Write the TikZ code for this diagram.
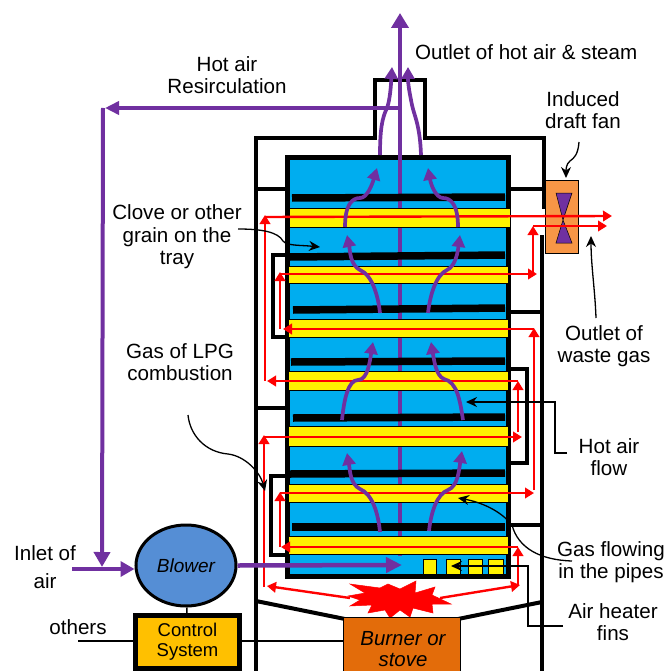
\documentclass[tikz,border=0pt]{standalone}
\usepackage{fontspec}
\setmainfont{Liberation Sans}
\usepackage{tikz}
\usetikzlibrary{arrows.meta, shapes.geometric}
\definecolor{trayblue}{HTML}{00ADEF}
\definecolor{airpurple}{HTML}{7030A0}
\definecolor{fanorange}{HTML}{F79646}
\definecolor{blowerblue}{HTML}{558ED5}
\definecolor{controlgold}{HTML}{FFC000}
\definecolor{burnerorange}{HTML}{E36C0A}
\tikzset{
  label/.style={font=\fontsize{20.6}{22.5}\selectfont, align=center, inner sep=0pt},
  wall/.style={draw=black, line width=4pt, line join=miter},
  thinwall/.style={draw=black, line width=3.5pt},
  tray/.style={draw=black, line width=7.5pt},
  band/.style={fill=yellow, draw=black, line width=0.8pt},
  fin/.style={fill=yellow, draw=black, line width=0.6pt},
  gasflow/.style={draw=red, line width=2.4pt, -{Triangle[length=9pt, width=10.5pt]}},
  hotair/.style={draw=airpurple, line width=3.7pt, -{Triangle[length=12pt, width=13pt]}},
  mainair/.style={draw=airpurple, line width=4.5pt, -{Triangle[length=15pt, width=17pt]}},
  callout/.style={draw=black, line width=1.3pt, -{Stealth[length=11pt, width=10pt]}},
  plainline/.style={draw=black, line width=1.5pt},
}

\begin{document}
\begin{tikzpicture}[x=1pt, y=-1pt]
    \useasboundingbox (0,0) rectangle (669,671);

    % walls of the dryer
    \draw[wall] (256,671)--(256,138)--(375,138)--(375,80)--(425,80)--(425,138)--(544,138)--(544,209);
    \draw[wall] (542,235)--(542,671);
    \draw[thinwall] (256,189)--(287,189);
    \draw[thinwall] (509,189)--(544,189);
    \draw[thinwall] (509,312)--(542,312);
    \draw[thinwall] (256,408)--(287,408);
    \draw[thinwall] (509,525)--(542,525);
    \draw[wall] (256,601)--(345,619);
    \draw[wall] (458,619)--(542,602);

    % baffles
    \draw[thinwall] (287,255)--(273,255)--(273,337)--(287,337);
    \draw[thinwall] (509,369)--(527,369)--(527,463)--(509,463);
    \draw[thinwall] (287,476)--(271,476)--(271,555)--(287,555);

    % drying chamber
    \draw[fill=trayblue, draw=black, line width=5pt] (287.5,158) rectangle (508,576.5);
    \draw[draw=airpurple, line width=4pt] (400,556)--(400,190);

    % trays
    \draw[tray] (292,198)--(505,197);
    \draw[tray] (290,257)--(505,255);
    \draw[tray] (293,310)--(505,308);
    \draw[tray] (291,362)--(505,361);
    \draw[tray] (293,418)--(505,417);
    \draw[tray] (290,474)--(505,473);
    \draw[tray] (292,527)--(505,527);

    % pipes
    \draw[band] (289,208) rectangle (510,227);
    \draw[band] (288,266) rectangle (508,283);
    \draw[band] (288,319) rectangle (508,337);
    \draw[band] (288,371) rectangle (508,390);
    \draw[band] (288,426) rectangle (508,446);
    \draw[band] (288,484) rectangle (508,502);
    \draw[band] (288,536) rectangle (508,554);

    % fins
    \draw[fin] (423,559) rectangle (436,574);
    \draw[fin] (446,559) rectangle (460,574);
    \draw[fin] (468,559) rectangle (482,574);
    \draw[fin] (488,559) rectangle (503,574);
    \draw[black, line width=1pt] (468,566)--(482,566);
    \draw[black, line width=1pt] (488,566)--(503,566);

    % flame and burner
    \draw[fill=red, draw=red, line width=0.5pt] (350,584)--(380,588)--(388,584)--(400,589)--(416,581)--(415,593)--(435,587)--(432,595)--(451,604)--(432,604)--(433,613)--(413,608)--(410,617)--(400,610)--(390,618)--(385,610)--(368,613)--(372,605)--(350,606)--(360,600)--(348,596)--(365,593)--cycle;
    \node[draw=black, fill=burnerorange, line width=1pt, minimum width=117pt, minimum height=64pt, inner sep=0pt] (burner) at (401.5,649) {};
    \node[label, font=\fontsize{20.4}{21}\selectfont\itshape] (burnertext) at (403,649) {Burner or\\stove};

    % fan
    \node[draw=black, fill=fanorange, line width=1pt, minimum width=33pt, minimum height=73pt, inner sep=0pt] (fan) at (561.5,216.5) {};
    \draw[fill=airpurple, draw=black, line width=0.5pt] (556,193)--(572,193)--(563,220)--(572,243)--(556,243)--(563,220)--cycle;

    % blower and control
    \node[ellipse, draw=black, fill=blowerblue, line width=3pt, minimum width=100pt, minimum height=81pt, inner sep=0pt, font=\fontsize{19}{20}\selectfont\itshape] (blower) at (186,565.5) {Blower};
    \node[draw=black, fill=controlgold, line width=5pt, minimum width=104pt, minimum height=53pt, inner sep=0pt, align=center, font=\fontsize{18.5}{20}\selectfont] (control) at (187.5,642) {Control\\System};
    \coordinate (otherend) at (78,641);
    \draw[plainline] (blower)--(control);
    \draw[plainline] (otherend)--(control.west |- otherend);
    \draw[plainline] (control.east |- otherend)--(burner.west |- otherend);

    % gas circuit
    \coordinate (flameleft) at (350,598);
    \coordinate (flameright) at (440,598);
    \coordinate (la) at (267,586);
    \coordinate (lb) at (264,587);
    \coordinate (lc) at (264,435);
    \coordinate (ld) at (264,437);
    \coordinate (le) at (522,437);
    \coordinate (lf) at (518,432);
    \coordinate (lg) at (518,381);
    \coordinate (lh) at (267,381);
    \coordinate (li) at (265,381);
    \coordinate (lj) at (265,215);
    \coordinate (lk) at (265,217);
    \coordinate (ll) at (612,216);
    \coordinate (ra) at (520,585);
    \coordinate (rb) at (518,585);
    \coordinate (rc) at (518,547);
    \coordinate (rd) at (281,547);
    \coordinate (re) at (280,547);
    \coordinate (rf) at (280,492);
    \coordinate (rg) at (280,493);
    \coordinate (rh) at (534,493);
    \coordinate (ri) at (534,490);
    \coordinate (rj) at (534,328);
    \coordinate (rk) at (534,329);
    \coordinate (rl) at (283,329);
    \coordinate (rm) at (280,329);
    \coordinate (rn) at (280,272);
    \coordinate (ro) at (280,274);
    \coordinate (rp) at (537,274);
    \coordinate (rq) at (533,274);
    \coordinate (rr) at (533,226);
    \coordinate (rs) at (533,226);
    \coordinate (rt) at (607,226);
    \draw[gasflow] (flameleft)--(la);
    \draw[gasflow] (lb)--(lc);
    \draw[gasflow] (ld)--(le);
    \draw[gasflow] (lf)--(lg);
    \draw[gasflow] (lg)--(lh);
    \draw[gasflow] (li)--(lj);
    \draw[gasflow] (lk)--(ll);
    \draw[gasflow] (flameright)--(ra);
    \draw[gasflow] (rb)--(rc);
    \draw[gasflow] (rc)--(rd);
    \draw[gasflow] (re)--(rf);
    \draw[gasflow] (rg)--(rh);
    \draw[gasflow] (ri)--(rj);
    \draw[gasflow] (rk)--(rl);
    \draw[gasflow] (rm)--(rn);
    \draw[gasflow] (ro)--(rp);
    \draw[gasflow] (rq)--(rr);
    \draw[gasflow] (rs)--(rt);

    % air inside the chamber
    \coordinate (topcentre) at (400,13);
    \coordinate (bend) at (400,108);
    \coordinate (corner) at (103,108);
    \coordinate (cornerend) at (105,108);
    \coordinate (airdown) at (102,567);
    \coordinate (inlet) at (72,569);
    \coordinate (heaterend) at (402,565);
    \draw[mainair] (400,190)--(topcentre);
    \draw[mainair, -{Triangle[length=14pt, width=13pt]}] (bend)--(cornerend);
    \draw[mainair, line width=4pt, -{Triangle[length=15pt, width=16pt]}] (corner)--(airdown);
    \draw[mainair, -{Triangle[length=14pt, width=15pt]}] (inlet)--(blower.west |- inlet);
    \draw[mainair, -{Triangle[length=16pt, width=15pt]}] (blower.east)--(heaterend);

    \draw[hotair] (345,227) .. controls (345,205) and (352,198) .. (360,198) .. controls (367,198) and (372,185) .. (377,168);
    \draw[hotair] (458,227) .. controls (458,205) and (451,198) .. (443,198) .. controls (436,198) and (431,185) .. (428,168);
    \draw[hotair] (380,313) .. controls (378,295) and (372,275) .. (360,270) .. controls (350,265) and (350,250) .. (347,235);
    \draw[hotair] (428,313) .. controls (430,295) and (436,275) .. (447,270) .. controls (456,266) and (458,250) .. (460,235);
    \draw[hotair] (342,420) .. controls (344,400) and (348,380) .. (358,380) .. controls (368,380) and (370,360) .. (373,342);
    \draw[hotair] (463,420) .. controls (460,400) and (457,382) .. (444,379) .. controls (436,376) and (434,360) .. (431,342);
    \draw[hotair] (380,532) .. controls (378,512) and (372,494) .. (360,489) .. controls (350,484) and (350,470) .. (347,453);
    \draw[hotair] (429,531) .. controls (431,512) and (437,494) .. (448,490) .. controls (458,486) and (459,470) .. (462,451);
    \draw[hotair] (380,155) .. controls (380,130) and (382,118) .. (387,108) .. controls (390,100) and (391,85) .. (392,67);
    \draw[hotair] (421,155) .. controls (420,125) and (414,115) .. (412,105) .. controls (410,95) and (408,85) .. (408,67);

    % labels
    \node[label] (hotair) at (227,75) {Hot air\\Resirculation};
    \node[label, anchor=west] (outlet) at (415,52) {Outlet of hot air \& steam};
    \node[label] (induced) at (583,110) {Induced\\draft fan};
    \node[label] (clove) at (177,237) {Clove or other\\grain on the\\tray};
    \node[label] (waste) at (604,346) {Outlet of\\waste gas};
    \node[label] (lpg) at (180,362) {Gas of LPG\\combustion};
    \node[label] (flow) at (609,457) {Hot air\\flow};
    \node[label] (inletlabel) at (45,567) {Inlet of\\[6pt]air};
    \node[label] (pipes) at (611,562) {Gas flowing\\in the pipes};
    \node[label] (finlabel) at (613,622) {Air heater\\fins};
    \node[label] (others) at (78,627) {others};

    % callouts
    \coordinate (clovestart) at (238,229);
    \coordinate (cloveend) at (320,247);
    \coordinate (lpgstart) at (188,415);
    \coordinate (lpgend) at (265,491);
    \coordinate (flowstart) at (567,453);
    \coordinate (flowa) at (555,453);
    \coordinate (flowb) at (555,402);
    \coordinate (flowend) at (466,402);
    \coordinate (pipestart) at (572,561);
    \coordinate (pipeend) at (458,498);
    \coordinate (fanstart) at (579,142);
    \coordinate (fanend) at (566,178);
    \coordinate (wastestart) at (596,318);
    \coordinate (wasteend) at (591,236);
    \coordinate (finstart) at (563,626);
    \coordinate (fina) at (528,626);
    \coordinate (finb) at (528,566);
    \coordinate (finend) at (451,566);
    \draw[callout] (clovestart) .. controls (262,229) and (278,232) .. (283,241) .. controls (287,246) and (300,245) .. (cloveend);
    \draw[callout] (lpgstart) .. controls (190,435) and (205,452) .. (228,454) .. controls (245,456) and (260,472) .. (lpgend);
    \draw[callout] (flowstart)--(flowa)--(flowb)--(flowend);
    \draw[callout] (pipestart) .. controls (540,560) and (518,548) .. (512,525) .. controls (500,510) and (480,502) .. (pipeend);
    \draw[callout] (fanstart) .. controls (578,155) and (574,158) .. (570,161) .. controls (566,164) and (566,170) .. (fanend);
    \draw[callout] (wastestart) .. controls (595,290) and (591,265) .. (wasteend);
    \draw[callout] (finstart)--(fina)--(finb)--(finend);
\end{tikzpicture}
\end{document}
